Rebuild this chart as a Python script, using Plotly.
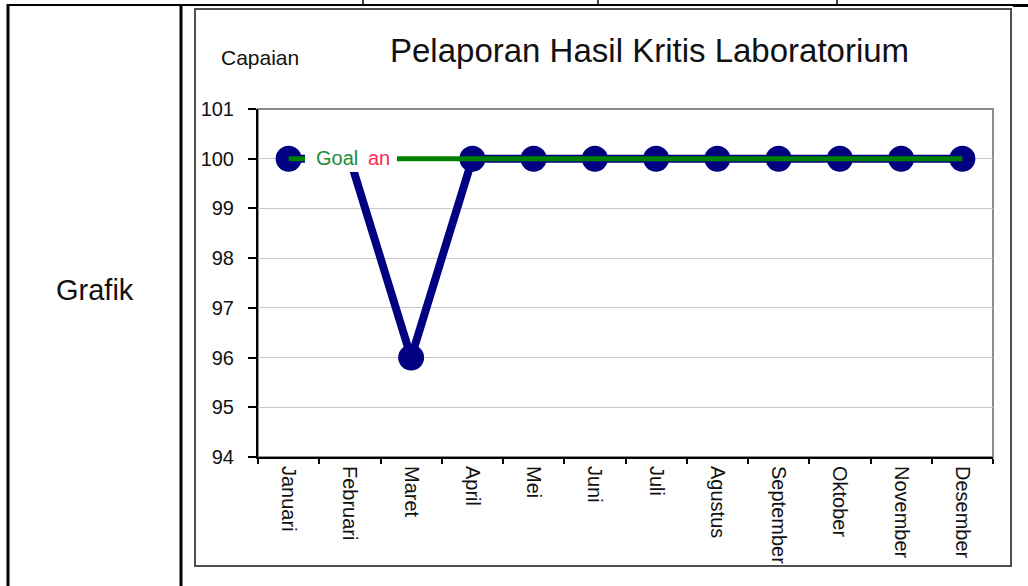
import plotly.graph_objects as go

# ---- data ----
months = ["Januari", "Februari", "Maret", "April", "Mei", "Juni", "Juli",
          "Agustus", "September", "Oktober", "November", "Desember"]
capaian = [100, 100, 96, 100, 100, 100, 100, 100, 100, 100, 100, 100]
goal = [100, 100, 100, 100, 100, 100, 100, 100, 100, 100, 100, 100]
y_ticks = [94, 95, 96, 97, 98, 99, 100, 101]

W, H = 1028, 586
L, R, T, B = 258, 993, 109, 457  # plot area in pixels


def px(x):
    return (x - L) / (R - L)


def py(y):
    return (B - y) / (B - T)


FONT = "Liberation Sans, Arial, sans-serif"

fig = go.Figure()
fig.add_trace(go.Scatter(
    x=months, y=capaian, mode="lines+markers", name="Capaian",
    line=dict(color="#000080", width=8),
    marker=dict(color="#000080", size=26),
))
fig.add_trace(go.Scatter(
    x=months, y=goal, mode="lines", name="Goal",
    line=dict(color="#008000", width=5),
))

shapes = []
# plot area border (gray)
shapes.append(dict(type="rect", xref="paper", yref="paper", x0=0, x1=1, y0=0, y1=1,
                   line=dict(color="#8c8c8c", width=2), layer="below"))
# chart frame
shapes.append(dict(type="rect", xref="paper", yref="paper",
                   x0=px(195), x1=px(1011), y0=py(566), y1=py(9),
                   line=dict(color="#505050", width=2), layer="below"))


def line(x0, y0, x1, y1, w=2, color="black"):
    shapes.append(dict(type="line", xref="paper", yref="paper",
                       x0=px(x0), y0=py(y0), x1=px(x1), y1=py(y1),
                       line=dict(color=color, width=w)))


# table lines
line(8, 4, 8, 586, 3)
line(181, 4, 181, 586, 3)
line(7, 5, 1013, 5, 2)
line(1013, 5.5, 1028, 5.5, 3)
line(363, 0, 363, 5, 1.5)
line(598, 0, 598, 5, 1.5)
line(837, 0, 837, 5, 1.5)

# legend label box (white) over the lines
shapes.append(dict(type="rect", xref="paper", yref="paper",
                   x0=px(305), x1=px(397), y0=py(172), y1=py(144),
                   fillcolor="white", line=dict(width=0), layer="above"))

annotations = [
    dict(text="Pelaporan Hasil Kritis Laboratorium", xref="paper", yref="paper",
         x=px(649), y=py(50), showarrow=False, xanchor="center", yanchor="middle",
         font=dict(family=FONT, size=33, color="#111111")),
    dict(text="Capaian", xref="paper", yref="paper",
         x=px(260), y=py(57), showarrow=False, xanchor="center", yanchor="middle",
         font=dict(family=FONT, size=21, color="#111111")),
    dict(text="Grafik", xref="paper", yref="paper",
         x=px(95), y=py(290), showarrow=False, xanchor="center", yanchor="middle",
         font=dict(family=FONT, size=29, color="#111111")),
    dict(text="Goal", xref="paper", yref="paper",
         x=px(337), y=py(158), showarrow=False, xanchor="center", yanchor="middle",
         font=dict(family=FONT, size=20, color="#1d8a3c")),
    dict(text="an", xref="paper", yref="paper",
         x=px(379), y=py(158), showarrow=False, xanchor="center", yanchor="middle",
         font=dict(family=FONT, size=20, color="#ff2a55")),
]

fig.update_layout(
    width=W, height=H,
    margin=dict(l=L, r=W - R, t=T, b=H - B, pad=0),
    paper_bgcolor="white", plot_bgcolor="white",
    showlegend=False,
    shapes=shapes,
    annotations=annotations,
    font=dict(family=FONT, color="#111111"),
    xaxis=dict(
        type="category", range=[-0.5, 11.5], tickson="boundaries",
        ticks="outside", ticklen=5, tickwidth=1.5, tickcolor="black",
        showline=True, linecolor="black", linewidth=2, showgrid=False,
        tickangle=90, tickfont=dict(family=FONT, size=20, color="#111111"),
        ticklabelstandoff=3, fixedrange=True,
    ),
    yaxis=dict(
        range=[94, 101], tickvals=y_ticks, ticktext=[str(v) for v in y_ticks],
        ticks="outside", ticklen=8, tickwidth=1.5, tickcolor="black",
        showline=True, linecolor="black", linewidth=2,
        showgrid=True, gridcolor="#c8c8c8", gridwidth=1, zeroline=False,
        tickfont=dict(family=FONT, size=20, color="#111111"),
        ticklabelstandoff=10, fixedrange=True,
    ),
)

fig.write_html("out.html",
               config={"displayModeBar": False},
               post_script="document.body.style.margin='0px';document.body.style.overflow='hidden';")
